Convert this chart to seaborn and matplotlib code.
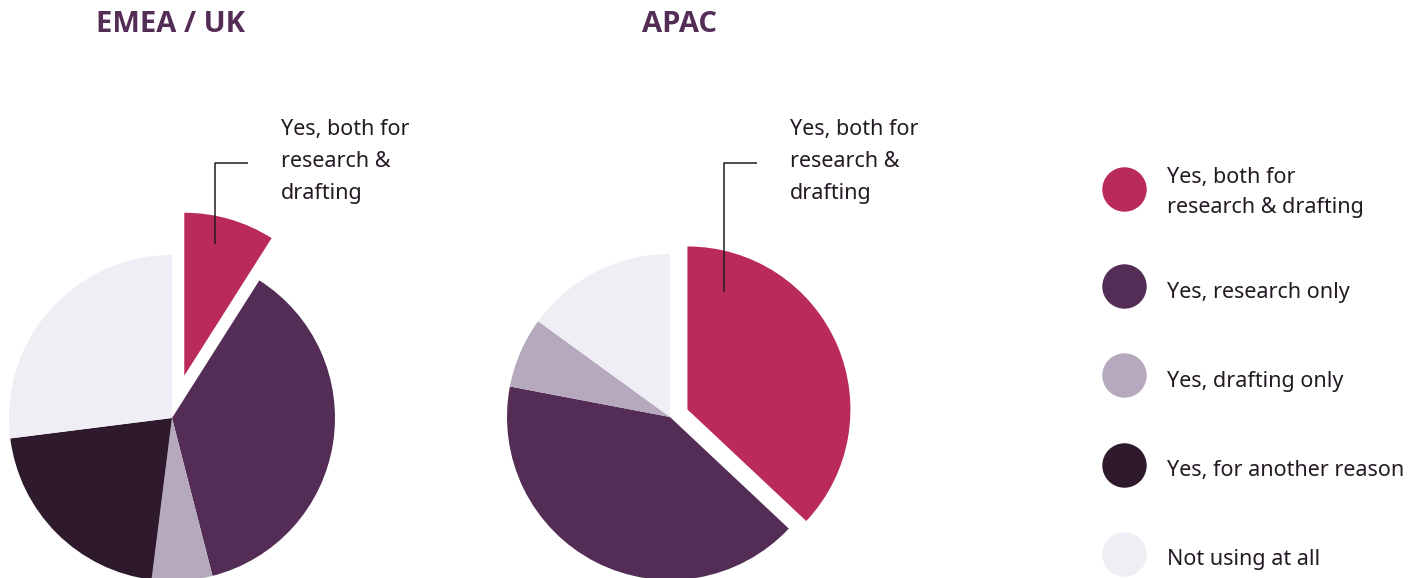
import seaborn as sns
import matplotlib.pyplot as plt
from matplotlib.lines import Line2D

categories = ["Yes, both for\nresearch & drafting", "Yes, research only",
              "Yes, drafting only", "Yes, for another reason", "Not using at all"]
emea_values = [9, 37, 6, 21, 27]
apac_values = [37, 41, 7, 0, 15]
colors = ["#BA2B5C", "#532D55", "#B6A9BE", "#2E1A2C", "#EFEEF5"]
callout_label = "Yes, both for\nresearch &\ndrafting"

sns.set_theme(style="white")
plt.rcParams["font.family"] = ["Noto Sans", "DejaVu Sans"]
text_color = "#231A24"
title_color = "#532D55"

W, H = 1421, 578
fig = plt.figure(figsize=(W / 100, H / 100), dpi=100)
ax = fig.add_axes([0, 0, 1, 1])
ax.set_xlim(0, W)
ax.set_ylim(0, H)
ax.set_aspect("equal")
ax.axis("off")

radius = 163
# title, values, centre, explode offset (px), title x, callout line x, line bottom
pies = [
    ("EMEA / UK", emea_values, (172, H - 418), 44, 171, 215, 244),
    ("APAC", apac_values, (670, H - 417), 19, 680, 724, 292),
]

for title, values, center, expl, title_x, line_x, line_bot in pies:
    explode = [expl, 0, 0, 0, 0]
    ax.pie(values, colors=colors, explode=explode, startangle=90, counterclock=False,
           center=center, radius=radius, frame=True,
           wedgeprops=dict(linewidth=0))
    ax.text(title_x, H - 25, title, fontsize=21, fontweight="bold",
            family=["Open Sans", "DejaVu Sans"],
            color=title_color, ha="center", va="center")
    ax.plot([line_x, line_x, line_x + 33], [H - line_bot, H - 163, H - 163],
            color=text_color, lw=1.1, solid_capstyle="butt")
    ax.text(line_x + 66, H - 119, callout_label,
            fontsize=15.5, color=text_color, ha="left", va="top", linespacing=1.68)

ax.set_xlim(0, W)
ax.set_ylim(0, H)

handles = [Line2D([0], [0], marker="o", linestyle="", markersize=32,
                  markerfacecolor=c, markeredgewidth=0) for c in colors]
leg = ax.legend(handles, categories, loc="center left", bbox_to_anchor=(1102 / W, 1 - 371 / H),
                frameon=False, fontsize=15.5, labelcolor=text_color,
                handlelength=2.0, handleheight=2.0, handletextpad=1.0,
                labelspacing=2.6, borderaxespad=0, borderpad=0)
for t in leg.get_texts():
    t.set_linespacing(1.6)

fig.savefig("out.png", dpi=100, facecolor="white")
